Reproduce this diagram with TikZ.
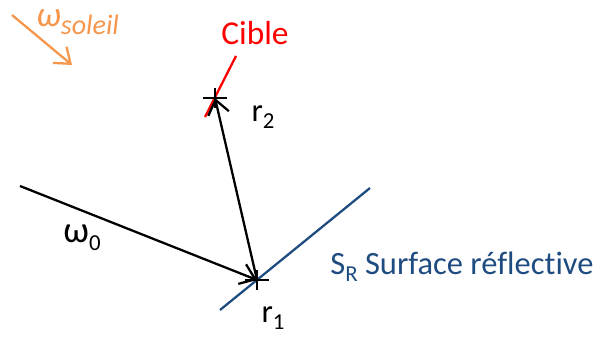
\documentclass[tikz,border=0pt]{standalone}
\usepackage{fontspec}
\setmainfont[Ligatures=NoCommon]{Carlito}
\usetikzlibrary{arrows.meta,calc}
\usepackage{tkz-euclide}
\definecolor{SurfClr}{rgb}{0.12,0.30,0.50}
\definecolor{SunClr}{rgb}{0.96,0.59,0.30}
\newcommand{\sub}[1]{\raisebox{-0.45ex}{\fontsize{13}{14}\selectfont #1}}

\begin{document}
\begin{tikzpicture}[x=0.02cm,y=0.02cm,font=\fontsize{18.5}{21}\selectfont,
  ray/.style={line width=1.3pt,black},
  tip/.style={-{Straight Barb[length=8pt,width=12pt,line width=1.3pt]}},
  crossmark/.style={line width=1.3pt,black}]
\useasboundingbox (0,0) rectangle (596,338);

\tkzDefPoints{257/58/R1,215/240/R2,220/28/S1,370/150/S2,20/152/W}
\tkzDefPoints{236/282/C1,205/221/C2,12/323/O1,72/273/O2}

% surface and target
\draw[line width=1.3pt,SurfClr] (S1) -- (S2);
\draw[line width=1.3pt,red] (C1) -- (C2);

% rays
\draw[ray,tip] (W) -- (R1);
\draw[ray,tip] (R1) -- (R2);
\draw[line width=1.3pt,SunClr,tip] (O1) -- (O2);

% crosses
\foreach \p in {R1,R2}{
  \draw[crossmark] ($(\p)+(-12,0)$) -- ($(\p)+(12,0)$);
  \draw[crossmark] ($(\p)+(0,-10)$) -- ($(\p)+(0,10)$);
}

\node[red] (cible) at (255,305) {\fontsize{19}{22}\selectfont Cible};
\node (lr2) at (263,221) {r\sub{2}};
\node (lr1) at (273,20) {r\sub{1}};
\node (lw0) at (82,100) {\fontsize{21}{24}\selectfont ω\sub{0}};
\node[SurfClr,anchor=west,inner sep=0pt] (lsurf) at (330,71) {S\sub{R} Surface réflective};
\node[SunClr,anchor=west,inner sep=0pt] (lsun) at (36,316) {\fontsize{20}{22}\selectfont\itshape ω\sub{\fontsize{16}{17}\selectfont soleil}};
\end{tikzpicture}
\end{document}
